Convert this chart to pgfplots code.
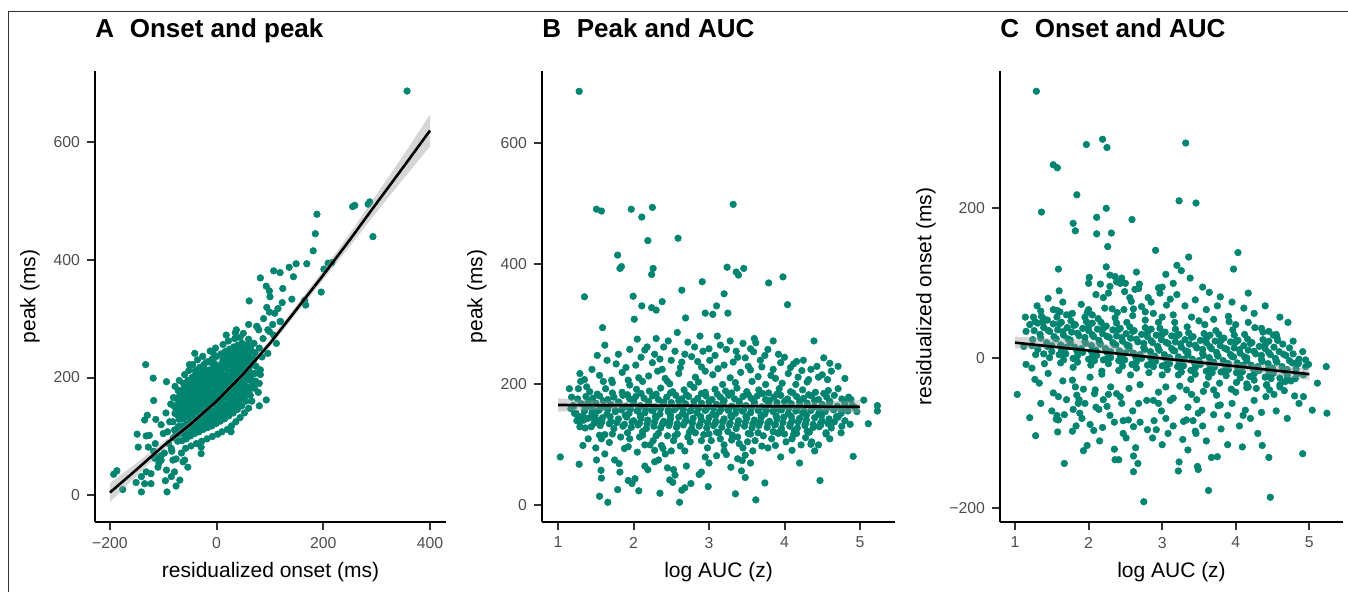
\documentclass[border=0pt]{standalone}
\usepackage{fontspec}
\setmainfont{Liberation Sans}
\usepackage{pgfplots}
\pgfplotsset{compat=1.18}
\definecolor{pt}{HTML}{018571}
\definecolor{tickgray}{HTML}{4D4D4D}
\definecolor{tickline}{HTML}{333333}
\definecolor{bandgray}{HTML}{999999}
\pgfplotsset{
  panel/.style={
    scale only axis, height=225.5pt, anchor=south west,
    clip marker paths=true,
    axis x line*=bottom, axis y line*=left,
    axis line style={line width=1.1pt, black, -},
    tick align=outside, major tick length=4pt,
    every tick/.style={line width=1pt, tickline},
    tick label style={font=\fontsize{7.9}{9}\selectfont, text=tickgray},
    label style={font=\fontsize{10.5}{12}\selectfont},
    title style={font=\bfseries\fontsize{13}{15}\selectfont, at={(0,1)}, anchor=base west, yshift=10.5pt, inner sep=0pt},
    /pgf/number format/assume math mode=true,
  },
  dots/.style={only marks, mark=*, mark size=1.65pt, color=pt, mark options={fill=pt, draw=pt, line width=0.3pt}},
  band/.style={fill=bandgray, fill opacity=0.4, draw=none},
  fit/.style={black, line width=1.3pt, no marks},
}
\begin{document}
\begin{tikzpicture}
\path[use as bounding box] (0,0) rectangle (674pt,296pt);
% ---------------- Panel A
\begin{axis}[panel, at={(47.5pt,35pt)}, width=175.5pt,
  xmin=-228, xmax=430, ymin=-45, ymax=720,
  xtick={-200,0,200,400}, xticklabels={−200,0,200,400},
  ytick={0,200,400,600}, yticklabels={0,200,400,600},
  xlabel={residualized onset (ms)}, ylabel={peak (ms)},
  title={A\hspace{0.6em}Onset and peak}]
\addplot[dots] coordinates {
(-81,98)(-79,111)(-82,125)(-78,139)(-80,152)(-81,166)
(-73,92)(-71,104)(-72,117)(-70,129)(-74,141)(-71,154)(-73,166)(-72,178)
(-65,93)(-63,106)(-64,118)(-62,130)(-66,142)(-63,155)(-65,167)(-64,179)(-62,190)
(-57,96)(-55,108)(-56,121)(-54,133)(-58,145)(-55,158)(-57,170)(-56,182)(-54,195)
(-49,101)(-47,113)(-48,126)(-46,138)(-50,150)(-47,163)(-49,175)(-48,187)(-46,200)
(-41,105)(-39,117)(-40,130)(-38,142)(-42,154)(-39,167)(-41,179)(-40,191)(-38,203)(-40,212)
(-33,108)(-31,120)(-32,133)(-30,145)(-34,157)(-31,170)(-33,182)(-32,194)(-30,206)(-32,217)
(-25,112)(-23,124)(-24,137)(-22,149)(-26,161)(-23,174)(-25,186)(-24,198)(-22,210)(-24,222)
(-17,115)(-15,127)(-16,140)(-14,152)(-18,164)(-15,177)(-17,189)(-16,201)(-14,213)(-16,227)
(-9,118)(-7,130)(-8,143)(-6,155)(-10,167)(-7,180)(-9,192)(-8,204)(-6,216)(-8,232)
(-1,122)(1,134)(0,147)(2,159)(-2,171)(1,184)(-1,196)(0,208)(2,220)(0,236)
(7,126)(9,138)(8,151)(10,163)(6,175)(9,188)(7,200)(8,212)(10,224)(8,240)
(15,130)(17,142)(16,155)(18,167)(14,179)(17,192)(15,204)(16,216)(18,228)(16,244)
(23,135)(25,147)(24,160)(26,172)(22,184)(25,197)(23,209)(24,221)(26,233)(24,248)
(31,140)(33,152)(32,165)(34,177)(30,189)(33,202)(31,214)(32,226)(34,238)(32,252)
(39,146)(41,158)(40,171)(42,183)(38,195)(41,208)(39,220)(40,232)(42,244)(40,255)
(47,152)(49,164)(48,177)(50,189)(46,201)(49,214)(47,226)(48,238)(50,250)(48,258)
(55,160)(57,172)(56,185)(58,197)(54,209)(57,222)(55,234)(56,246)(58,256)
(63,170)(65,182)(64,195)(66,207)(62,219)(65,232)(64,248)
(71,182)(73,194)(72,207)(74,219)(70,231)(72,242)
(-76,104)(-68,112)(-60,114)(-52,119)(-44,124)(-36,127)(-28,130)(-20,134)(-12,136)(-4,140)(4,143)(12,147)(20,149)(28,154)(36,158)(44,165)(52,170)(60,177)(68,188)
(-76,146)(-68,148)(-60,150)(-52,156)(-44,158)(-36,162)(-28,164)(-20,168)(-12,171)(-4,174)(4,178)(12,182)(20,186)(28,190)(36,196)(44,200)(52,206)(60,214)(68,226)
(-68,172)(-60,184)(-52,188)(-44,194)(-36,197)(-28,200)(-20,204)(-12,207)(-4,210)(4,214)(12,218)(20,222)(28,226)(36,230)(44,236)(52,242)(60,240)
(-72,135)(-64,137)(-56,139)(-48,144)(-40,148)(-32,151)(-24,155)(-16,158)(-8,161)(0,165)(8,169)(16,173)(24,178)(32,183)(40,189)(48,195)(56,203)(64,201)
(-72,160)(-64,161)(-56,164)(-48,169)(-40,173)(-32,176)(-24,180)(-16,183)(-8,186)(0,190)(8,194)(16,198)(24,203)(32,208)(40,214)(48,220)(56,228)
(-60,96)(-52,102)(-44,110)(-36,114)(-28,118)(-20,121)(-12,124)(-4,128)(4,131)(12,135)(20,138)(28,142)(36,146)(44,152)
(-56,176)(-48,181)(-40,185)(-32,188)(-24,192)(-16,195)(-8,198)(0,202)(8,206)(12,230)(20,236)(28,240)(36,246)(44,250)(-8,224)(-24,216)(-40,204)
(-92,108)(-88,125)(-95,140)(-86,155)(-90,88)(-84,75)(-78,185)(-70,195)(-60,205)(-52,212)
(-45,222)(-36,230)(-26,236)(-12,245)(-2,250)(12,256)(22,262)(34,266)(44,268)(60,265)
(70,258)(80,250)(85,235)(82,205)(80,190)(78,175)(66,160)(60,148)(52,140)(44,132)
(36,125)(28,118)(20,112)(10,108)(2,104)(-8,100)(-18,96)(-28,92)(-38,88)(-48,84)
(-58,80)(-66,72)(-76,62)(-60,60)(-54,48)(-100,105)(-104,120)(-98,72)(-115,88)(-108,55)(-118,75)
(-147,82)(-128,82)(-149,104)(-132,101)(-126,102)(-110,65)(-104,68)(-85,80)(-63,57)
(-176,10)(-151,22)(-135,20)(-123,20)(-141,6)(-93,6)(-96,25)(-76,16)(-69,26)(-187,42)(-193,36)
(-110,48)(-104,60)(-123,37)(-94,43)(-85,32)(-82,60)(-79,40)(-116,63)(-132,40)(-141,32)
(-130,136)(-135,128)(-114,129)(-118,161)(-133,222)(-119,199)(-94,193)(-41,241)(-7,243)
(-51,222)(-19,226)(-4,224)(18,272)(35,276)(76,286)(79,281)(99,278)(107,272)(119,295)
(87,266)(112,258)(96,241)(82,213)(93,162)(80,152)(57,181)(27,108)(-29,82)(-29,71)
(188,477)(185,444)(181,415)(255,490)(259,492)(284,494)(287,498)(293,439)(149,393)(169,393)
(136,387)(107,381)(119,378)(82,369)(144,371)(93,355)(99,347)(124,351)(100,337)(61,330)
(141,333)(196,345)(209,394)(216,395)(201,384)(123,327)(167,323)(165,331)(94,319)(99,311)
(109,309)(115,317)(120,295)(75,287)(357,686)(37,281)(96,281)(50,275)(60,290)(88,300)(105,290)
};
\addplot[band] coordinates {
(-200,21)(-150,55)(-100,91)(-50,125)(0,164)(50,211)(100,264)(150,323)(200,382)(250,445)(300,511)(350,577)(400,646)
(400,592)(350,537)(300,481)(250,423)(200,366)(150,309)(100,252)(50,201)(0,156)(-50,115)(-100,77)(-150,33)(-200,-11)
} --cycle;
\addplot[fit] coordinates {
(-200,5)(-150,44)(-100,84)(-50,120)(0,160)(50,206)(100,258)(150,316)(200,374)(250,434)(300,496)(350,557)(400,619)
};
\end{axis}
% ---------------- Panel B
\begin{axis}[panel, at={(271pt,35pt)}, width=176.5pt,
  xmin=0.788, xmax=5.464, ymin=-27.6, ymax=718.7,
  xtick={1,2,3,4,5}, xticklabels={1,2,3,4,5},
  ytick={0,200,400,600}, yticklabels={0,200,400,600},
  xlabel={log AUC (z)}, ylabel={peak (ms)},
  title={B\hspace{0.6em}Peak and AUC}]
\addplot[dots] coordinates {
(1.42,188)(1.63,193)(1.85,187)(2.04,192)(2.21,189)(2.36,194)(2.52,188)(2.67,191)(2.80,195)(2.95,187)(3.08,192)(3.22,189)(3.37,194)(3.50,188)(3.66,191)(3.79,186)(3.93,193)(4.08,188)(4.24,191)(4.41,187)(4.58,190)
(1.26,176)(1.37,180)(1.46,177)(1.55,181)(1.66,175)(1.74,179)(1.86,182)(1.95,176)(2.03,180)(2.14,177)(2.25,181)(2.33,175)(2.44,179)(2.56,182)(2.64,176)(2.73,180)(2.85,177)(2.96,181)(3.04,175)(3.15,179)(3.26,182)(3.34,176)(3.45,180)(3.56,177)(3.64,181)(3.75,175)(3.86,179)(3.95,182)(4.04,176)(4.16,180)(4.25,177)(4.36,181)(4.45,175)(4.56,179)(4.66,182)(4.76,176)(4.85,179)
(1.21,164)(1.31,168)(1.42,165)(1.50,169)(1.61,163)(1.70,167)(1.81,170)(1.90,164)(2.00,168)(2.09,165)(2.20,169)(2.29,163)(2.39,167)(2.50,170)(2.60,164)(2.69,168)(2.80,165)(2.90,169)(3.00,163)(3.10,167)(3.19,170)(3.30,164)(3.40,168)(3.49,165)(3.60,169)(3.70,163)(3.79,167)(3.90,170)(4.00,164)(4.09,168)(4.20,165)(4.30,169)(4.39,163)(4.50,167)(4.60,170)(4.70,164)(4.80,168)(4.90,165)
(1.24,152)(1.35,156)(1.45,153)(1.54,157)(1.65,151)(1.76,155)(1.84,158)(1.94,152)(2.05,156)(2.15,153)(2.24,157)(2.35,151)(2.46,155)(2.54,158)(2.65,152)(2.75,156)(2.84,153)(2.95,157)(3.05,151)(3.14,155)(3.25,158)(3.35,152)(3.44,156)(3.55,153)(3.65,157)(3.74,151)(3.85,155)(3.94,158)(4.05,152)(4.15,156)(4.24,153)(4.35,157)(4.45,151)(4.54,155)(4.65,158)(4.75,152)(4.84,156)
(1.30,140)(1.40,144)(1.51,141)(1.59,145)(1.70,139)(1.80,143)(1.91,146)(2.00,140)(2.10,144)(2.19,141)(2.30,145)(2.40,139)(2.49,143)(2.60,146)(2.70,140)(2.79,144)(2.90,141)(3.00,145)(3.09,139)(3.20,143)(3.30,146)(3.39,140)(3.50,144)(3.60,141)(3.69,145)(3.80,139)(3.90,143)(3.99,146)(4.10,140)(4.20,144)(4.29,141)(4.40,145)(4.50,139)(4.59,143)(4.70,146)(4.80,140)
(1.36,128)(1.56,132)(1.74,127)(1.86,131)(1.97,129)(2.06,133)(2.17,127)(2.27,131)(2.36,128)(2.47,132)(2.57,129)(2.66,133)(2.77,127)(2.87,131)(2.97,128)(3.06,132)(3.17,129)(3.27,133)(3.36,127)(3.47,131)(3.57,128)(3.66,132)(3.77,129)(3.87,133)(3.96,127)(4.07,131)(4.17,128)(4.27,132)(4.38,129)(4.48,133)(4.62,128)(4.76,131)
(1.62,117)(1.92,120)(2.12,116)(2.33,119)(2.55,115)(2.74,121)(2.93,117)(3.13,120)(3.31,116)(3.52,119)(3.72,115)(3.91,120)(4.12,117)(4.33,121)(4.55,118)
(1.72,203)(2.12,205)(2.48,201)(2.86,204)(3.18,200)(3.57,205)(3.97,202)(4.30,204)
(1.48,136)(1.58,138)(1.68,135)(1.78,137)(1.88,134)(1.98,138)(2.08,136)(2.18,135)(2.28,138)(2.38,134)(2.48,137)(2.58,135)(2.68,138)(2.78,136)(2.88,134)(2.98,137)(3.08,135)(3.18,138)(3.28,136)(3.38,134)(3.48,137)(3.58,135)(3.68,138)(3.78,136)(3.88,134)(3.98,137)(4.08,135)(4.18,138)(4.28,136)(4.38,134)(4.48,137)(4.58,135)
(1.36,160)(1.46,158)(1.56,161)(1.66,159)(1.76,157)(1.86,161)(1.96,159)(2.06,158)(2.16,161)(2.26,157)(2.36,160)(2.46,158)(2.56,161)(2.66,159)(2.76,157)(2.86,160)(2.96,158)(3.06,161)(3.16,159)(3.26,157)(3.36,160)(3.46,158)(3.56,161)(3.66,159)(3.76,157)(3.86,160)(3.96,158)(4.06,161)(4.16,159)(4.26,157)(4.36,160)(4.46,158)(4.56,161)(4.66,159)(4.76,157)
(1.52,184)(1.72,186)(1.92,183)(2.10,185)(2.30,184)(2.49,186)(2.70,183)(2.90,185)(3.11,184)(3.30,186)(3.52,183)(3.71,185)(3.90,184)(4.11,186)(4.32,183)(4.52,185)
(1.33,148)(1.49,149)(1.69,147)(1.89,149)(2.09,148)(2.29,147)(2.49,149)(2.69,148)(2.89,147)(3.09,149)(3.29,148)(3.49,147)(3.69,149)(3.89,148)(4.09,147)(4.29,149)(4.49,148)(4.69,147)
(1.40,172)(1.60,173)(1.80,171)(2.00,173)(2.20,172)(2.40,171)(2.60,173)(2.80,172)(3.00,171)(3.20,173)(3.40,172)(3.60,171)(3.80,173)(4.00,172)(4.20,171)(4.40,173)(4.60,172)(4.80,171)
(1.45,225)(1.65,240)(1.80,250)(1.90,228)(2.10,245)(2.18,262)(2.28,250)(2.35,242)(2.55,255)(2.62,228)(2.68,250)(2.85,238)(2.92,255)(3.08,248)(3.15,265)(3.20,232)(3.38,245)(3.45,268)(3.52,230)(3.68,240)(3.78,258)(3.82,215)(4.00,245)(4.08,228)(4.25,240)(4.35,225)(4.45,212)(4.60,235)(4.80,210)(2.45,205)(2.75,200)(3.35,203)(3.75,200)(4.15,200)(1.95,199)(1.60,205)(1.30,205)(2.40,262)(2.88,280)(3.28,272)(3.85,272)(2.05,275)
(1.40,110)(1.50,95)(1.62,85)(1.72,118)(1.95,110)(2.05,88)(2.12,122)(2.22,100)(2.42,85)(2.58,118)(2.68,90)(2.82,120)(2.95,80)(3.00,118)(3.15,110)(3.25,122)(3.40,102)(3.55,118)(3.58,90)(3.65,120)(3.78,95)(3.85,122)(4.00,118)(4.10,110)(4.22,100)(4.30,123)(4.40,90)(4.60,110)(4.75,120)(2.30,115)(2.50,90)(1.75,75)(2.15,65)(2.70,65)(3.00,70)(3.55,70)(3.95,80)(4.20,70)
(1.28,685)(1.51,490)(1.575,487)(1.97,490)(2.25,493)(2.11,477)(3.32,498)(2.19,438)(2.59,442)(1.79,414)(1.82,392)(1.84,395)(2.26,392)(2.24,382)(3.24,394)(3.36,386)(3.39,381)(3.46,392)(2.91,370)(3.79,368)(3.98,378)(2.64,356)
(1.35,345)(1.995,346)(3.20,350)(2.11,330)(2.24,327)(2.30,323)(2.38,337)(4.04,332)(2.95,318)(3.05,316)(3.10,330)(3.25,318)(2.69,310)(2.01,308)(1.59,294)(2.58,286)(3.11,280)(3.60,276)(3.62,269)(4.39,272)(1.62,265)(1.52,248)(2.30,276)(2.46,272)(1.95,258)(2.15,257)(2.72,270)(2.81,262)(3.00,259)(3.23,258)(3.36,255)(3.55,259)(3.59,254)(3.74,248)(3.92,250)(4.52,244)(4.71,230)(4.12,234)(4.16,238)
(1.71,207)(1.93,207)(2.07,211)(1.77,234)(2.03,232)(2.25,236)(2.38,225)(2.50,240)(2.64,237)(2.77,246)(2.90,229)(3.01,240)(3.12,226)(3.32,237)(3.48,244)(3.70,229)(3.85,225)(3.95,236)(4.23,223)(4.32,208)(4.43,230)(4.57,208)(4.71,193)(1.29,218)(1.35,208)(1.38,196)(1.15,193)(1.27,193)
(1.55,215)(1.85,220)(2.20,214)(2.42,210)(2.60,218)(2.82,212)(3.05,216)(3.28,211)(3.42,220)(3.65,213)(3.88,210)(4.05,218)(4.18,212)(4.50,216)(4.62,222)(2.95,222)(3.55,224)(2.32,222)
(1.83,113)(1.93,97)(1.88,94)(2.08,113)(2.26,107)(2.37,99)(2.39,94)(2.28,91)(2.53,107)(2.72,113)(2.75,105)(2.90,107)(3.03,107)(3.10,121)(3.38,113)(3.51,105)(3.61,107)(3.92,119)(4.13,124)(4.16,119)(4.46,130)(4.66,138)(4.71,146)(1.29,130)(1.27,146)(1.44,130)(1.34,141)(1.44,146)(1.55,116)(1.575,110)(1.18,179)(1.22,152)
(1.68,104)(2.15,100)(2.45,115)(2.62,98)(3.20,100)(3.30,108)(3.70,98)(3.83,110)(4.02,105)(4.28,112)(4.55,120)(2.98,95)(3.45,95)
(1.03,80)(1.28,68)(1.33,99)(1.51,75)(1.57,58)(1.575,45)(1.55,15)(1.66,5)(1.79,26)(1.81,69)(1.82,55)(1.93,41)(2.02,44)(1.98,36)(2.07,24)(2.19,59)(2.28,72)(2.33,75)(2.35,20)(2.45,62)(2.53,59)(2.55,50)(2.48,42)(2.52,38)(2.64,25)(2.68,29)(2.76,36)(2.61,5)(2.87,51)(2.90,55)(2.99,31)(3.10,82)(3.20,90)(3.23,84)(3.29,63)(3.35,19)(3.38,77)(3.48,83)(3.44,74)(3.43,57)(3.48,46)(3.62,9)(3.74,37)(3.88,99)(4.10,91)(4.47,41)(4.45,100)(4.36,105)(4.35,101)(4.91,81)(5.11,135)(5.23,165)(5.23,156)(5.05,174)(4.87,134)
(4.93,162)(4.88,175)(4.96,155)(1.20,165)(1.17,160)(1.25,140)
};
\addplot[band] coordinates {
(1,177)(2,170.3)(3,168)(4,168.8)(5,174)
(5,152)(4,158.8)(3,161)(2,160.3)(1,155)
} --cycle;
\addplot[fit] coordinates {(1,166)(2,165.3)(3,164.5)(4,163.8)(5,163)};
\end{axis}
% ---------------- Panel C
\begin{axis}[panel, at={(500pt,35pt)}, width=171.5pt,
  xmin=0.796, xmax=5.458, ymin=-218, ymax=383,
  xtick={1,2,3,4,5}, xticklabels={1,2,3,4,5},
  ytick={-200,0,200}, yticklabels={−200,0,200},
  xlabel={log AUC (z)}, ylabel={residualized onset (ms)},
  title={C\hspace{0.6em}Onset and AUC}]
\addplot[dots] coordinates {
(1.35,63)(1.57,64)(1.74,58)(1.98,61)(2.13,53)(2.36,54)(2.52,48)(2.77,51)(2.95,48)(3.17,48)(3.34,42)(3.58,45)(3.73,37)(3.96,38)(4.12,32)(4.37,35)(4.55,32)
(1.25,55)(1.36,56)(1.44,51)(1.57,55)(1.63,48)(1.76,50)(1.82,45)(1.97,49)(2.05,47)(2.17,48)(2.24,43)(2.38,47)(2.43,40)(2.56,42)(2.62,37)(2.77,41)(2.85,39)(2.97,40)(3.04,35)(3.18,39)(3.23,32)(3.36,34)(3.42,29)(3.57,33)(3.65,31)(3.77,32)(3.84,27)(3.98,31)(4.03,24)(4.16,26)(4.22,21)(4.37,25)(4.45,23)(4.57,24)(4.64,19)(4.78,23)
(1.20,45)(1.31,47)(1.39,41)(1.52,46)(1.58,38)(1.71,41)(1.77,35)(1.92,40)(2.00,37)(2.12,39)(2.19,33)(2.33,38)(2.38,30)(2.51,33)(2.57,27)(2.72,32)(2.80,29)(2.92,31)(2.99,25)(3.13,30)(3.18,22)(3.31,25)(3.37,19)(3.52,24)(3.60,21)(3.72,23)(3.79,17)(3.93,22)(3.98,14)(4.11,17)(4.17,11)(4.32,16)(4.40,13)(4.52,15)(4.59,9)(4.73,14)(4.78,6)(4.91,9)
(1.15,36)(1.26,37)(1.34,32)(1.47,36)(1.53,29)(1.66,31)(1.72,26)(1.87,30)(1.95,28)(2.07,29)(2.14,24)(2.28,28)(2.33,21)(2.46,23)(2.52,18)(2.67,22)(2.75,20)(2.87,21)(2.94,16)(3.08,20)(3.13,13)(3.26,15)(3.32,10)(3.47,14)(3.55,12)(3.67,13)(3.74,8)(3.88,12)(3.93,5)(4.06,7)(4.12,2)(4.27,6)(4.35,4)(4.47,5)(4.54,0)(4.68,4)(4.73,-3)(4.86,-1)(4.95,-2)
(1.24,25)(1.35,27)(1.43,21)(1.56,26)(1.62,18)(1.75,21)(1.81,15)(1.96,20)(2.04,17)(2.16,19)(2.23,13)(2.37,18)(2.42,10)(2.55,13)(2.61,7)(2.76,12)(2.84,9)(2.96,11)(3.03,5)(3.17,10)(3.22,2)(3.35,5)(3.41,-1)(3.56,4)(3.64,1)(3.76,3)(3.83,-3)(3.97,2)(4.02,-6)(4.15,-3)(4.21,-9)(4.36,-4)(4.44,-7)(4.56,-5)(4.63,-11)(4.77,-6)(4.82,-14)(4.95,-11)
(1.12,16)(1.23,17)(1.31,12)(1.44,16)(1.50,9)(1.63,11)(1.69,6)(1.84,10)(1.92,8)(2.04,9)(2.11,4)(2.25,8)(2.30,1)(2.43,3)(2.49,-2)(2.64,2)(2.72,0)(2.84,1)(2.91,-4)(3.05,0)(3.10,-7)(3.23,-5)(3.29,-10)(3.44,-6)(3.52,-8)(3.64,-7)(3.71,-12)(3.85,-8)(3.90,-15)(4.03,-13)(4.09,-18)(4.24,-14)(4.32,-16)(4.44,-15)(4.51,-20)(4.65,-16)(4.70,-23)(4.83,-21)(4.92,-22)
(1.28,5)(1.39,6)(1.47,1)(1.60,5)(1.66,-2)(1.79,0)(1.85,-5)(2.00,-1)(2.08,-3)(2.20,-2)(2.27,-7)(2.41,-3)(2.46,-10)(2.59,-8)(2.65,-13)(2.80,-9)(2.88,-11)(3.00,-10)(3.07,-15)(3.21,-11)(3.26,-18)(3.39,-16)(3.45,-21)(3.60,-17)(3.68,-19)(3.80,-18)(3.87,-23)(4.01,-19)(4.06,-26)(4.19,-24)(4.25,-29)(4.40,-25)(4.48,-27)(4.60,-26)(4.67,-31)(4.81,-27)
(1.40,-7)(1.62,-6)(1.79,-12)(2.03,-9)(2.18,-17)(2.41,-16)(2.57,-22)(2.82,-19)(3.00,-22)(3.22,-22)(3.39,-28)(3.63,-25)(3.78,-33)(4.01,-32)(4.17,-38)(4.42,-35)(4.60,-38)
(1.45,37.5)(1.65,35.5)(1.85,33.5)(2.05,31.5)(2.25,29.5)(2.45,27.5)(2.65,25.5)(2.85,23.5)(3.05,21.5)(3.25,19.5)(3.45,17.5)(3.65,15.5)(3.85,13.5)(4.05,11.5)(4.25,9.5)(4.45,7.5)(4.65,5.5)
(1.55,26.5)(1.75,24.5)(1.95,22.5)(2.15,20.5)(2.35,18.5)(2.55,16.5)(2.75,14.5)(2.95,12.5)(3.15,10.5)(3.35,8.5)(3.55,6.5)(3.75,4.5)(3.95,2.5)(4.15,0.5)(4.35,-1.5)(4.55,-3.5)
(1.5,17)(1.7,15)(1.9,13)(2.1,11)(2.3,9)(2.5,7)(2.7,5)(2.9,3)(3.1,1)(3.3,-1)(3.5,-3)(3.7,-5)(3.9,-7)(4.1,-9)(4.3,-11)(4.5,-13)(4.7,-15)
(1.6,46)(1.8,44)(2.0,42)(2.2,40)(2.4,38)(2.6,36)(2.8,34)(3.0,32)(3.2,30)(3.4,28)(3.6,26)(3.8,24)(4.0,22)(4.2,20)(4.4,18)
(1.65,5.5)(1.85,3.5)(2.05,1.5)(2.25,-0.5)(2.45,-2.5)(2.65,-4.5)(2.85,-6.5)(3.05,-8.5)(3.25,-10.5)(3.45,-12.5)(3.65,-14.5)(3.85,-16.5)(4.05,-18.5)(4.25,-20.5)(4.45,-22.5)
(1.30,70)(1.45,80)(1.65,75)(1.90,72)(2.10,85)(2.50,100)(2.85,75)(3.00,95)(3.20,85)(3.45,78)(3.55,95)(3.75,70)(3.95,75)(4.25,60)(4.40,70)(4.60,55)(1.60,90)(2.65,115)(3.15,100)(2.00,65)
(1.35,-60)(1.50,-70)(1.70,-55)(1.95,-60)(2.20,-55)(2.35,-85)(2.60,-70)(2.80,-95)(2.95,-60)(3.15,-90)(3.35,-65)(3.55,-90)(3.70,-75)(3.95,-60)(4.05,-90)(4.20,-80)(4.30,-100)(4.55,-70)(4.70,-80)(4.80,-50)(2.45,-60)(3.00,-115)(3.60,-110)(2.15,-110)
(1.29,356)(2.19,292)(2.25,281)(1.97,285)(3.32,287)(1.52,258)(1.575,254)(1.84,218)(1.36,195)(2.24,200)(2.11,188)(3.23,210)(3.46,207)(2.59,185)(1.79,180)(1.82,170)(2.11,166)(2.31,167)(2.26,149)(2.91,144)(3.36,135)(4.03,141)(1.59,119)(2.24,122)(3.20,124)(3.26,117)(3.97,119)(3.05,112)(3.38,107)(2.01,108)(2.00,100)(2.16,99)(2.29,111)(2.36,109)(2.45,107)(2.43,100)(2.38,102)(2.29,96)(2.69,99)(2.63,92)(2.68,93)(2.49,89)(2.27,87)(2.20,81)(2.56,81)(2.58,76)(2.81,81)(2.95,94)(2.97,87)(3.11,79)(3.06,71)(3.31,70)(3.64,88)(3.79,82)(4.17,87)(4.11,67)(3.60,65)(2.72,69)(1.52,65)(2.22,67)(2.32,66)(2.48,65)(2.61,66)
(1.61,62)(1.70,58)(1.78,60)(1.14,55)(1.27,49)(1.39,53)(1.38,48)(2.39,61)(2.77,62)(3.90,56)(3.91,49)(4.17,48)(4.26,41)(4.71,48)(4.51,31)(4.56,28)
(1.95,55)(2.05,58)(2.60,57)(2.88,60)(3.00,55)(3.15,58)(3.40,55)(3.50,50)(3.70,52)(4.00,45)(4.35,40)(4.45,36)
(1.03,-48)(1.20,-79)(1.28,-103)(1.67,-140)(1.27,-28)(1.33,-33)(1.15,-8)(1.23,-13)(1.52,-46)(1.59,-51)(1.57,-76)(1.56,-81)(1.59,-82)(1.67,-75)(1.58,-98)(1.78,-97)(1.83,-90)(1.88,-73)(1.91,-80)(1.79,-68)(1.86,-60)(1.87,-55)(1.93,-123)(1.98,-116)(2.02,-88)(2.07,-96)(2.19,-92)(2.10,-65)(2.14,-68)(2.25,-64)(2.29,-76)(2.35,-121)(2.41,-135)(2.36,-135)(2.47,-100)(2.51,-106)(2.61,-151)(2.64,-119)(2.61,-130)(2.67,-140)(2.47,-83)(2.54,-82)(2.61,-91)(2.70,-85)(2.75,-191)(2.87,-106)(2.92,-95)(2.89,-83)(3.08,-100)(2.99,-70)(3.05,-80)(3.23,-138)(3.22,-150)(3.28,-108)(3.35,-122)(3.48,-144)(3.49,-148)(3.45,-97)(3.46,-100)(3.29,-84)(3.33,-82)(3.42,-83)(3.49,-73)(3.54,-69)(3.63,-176)(3.67,-132)(3.75,-131)(3.80,-94)(3.89,-115)(3.89,-76)(3.76,-63)(3.79,-62)(4.09,-118)(4.10,-76)(4.13,-69)(4.35,-72)(4.36,-116)(4.45,-132)(4.47,-185)(4.25,-56)(4.41,-51)(4.66,-43)(4.86,-60)(4.92,-51)(4.91,-127)(5.04,-69)(5.24,-73)(5.11,-33)(5.23,-11)(4.99,-8)(4.84,-5)(4.85,-7)
(2.79,-56)(2.88,-56)(2.68,-60)(2.30,-38)(2.38,-47)(2.43,-51)(2.09,-42)(2.08,-47)(2.27,-48)(1.93,-41)(1.84,-49)(1.78,-29)(1.82,-38)(2.02,-25)(2.18,-21)(3.11,-56)(3.15,-53)(3.24,-37)(3.33,-42)(3.40,-48)(3.47,-55)(3.56,-44)(3.70,-42)(3.74,-49)(3.94,-41)(4.15,-39)(4.15,-34)(4.42,-36)(4.46,-42)(4.52,-48)
(1.45,-20)(1.65,-30)(2.55,-40)(2.95,-45)(3.60,-35)(4.00,-45)(4.28,-40)(4.60,-35)(4.75,-30)(2.70,-35)(3.05,-38)
};
\addplot[band] coordinates {
(1,29)(2,24)(3,3)(4,-6)(5,-13)
(5,-29)(4,-15)(3,-3)(2,15)(1,13)
} --cycle;
\addplot[fit] coordinates {(1,21)(5,-21)};
\end{axis}
\draw[line width=0.45pt, tickline] (4pt,0pt) -- (4pt,290.5pt) -- (674pt,290.5pt);
\end{tikzpicture}
\end{document}
